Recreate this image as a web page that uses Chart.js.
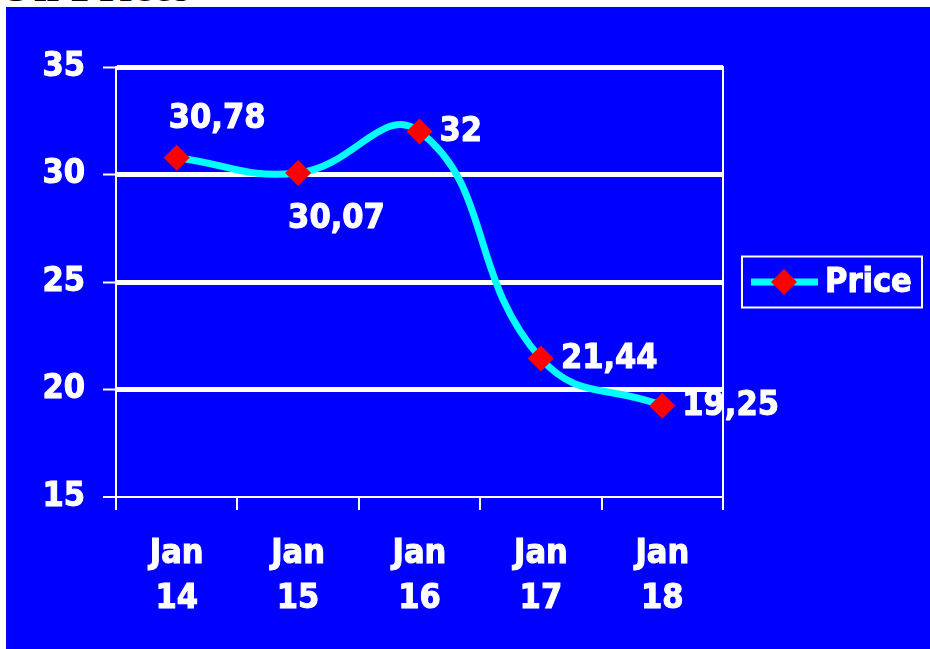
<!DOCTYPE html>
<html>
<head>
<meta charset="utf-8">
<script src="https://cdn.jsdelivr.net/npm/chart.js@4.4.1/dist/chart.umd.min.js"></script>
<style>
  html, body { margin: 0; padding: 0; background: #fff; overflow: hidden; }
  body { width: 930px; height: 649px; position: relative; }
  #title { position: absolute; left: -2px; top: -37px; font: bold 46px "Liberation Serif", serif; line-height: 46px; color: #000; white-space: nowrap; }
  #box { position: absolute; left: 6px; top: 7px; width: 924px; height: 642px; background: #0000ff; }
</style>
</head>
<body>
<div id="title">Oil Prices</div>
<div id="box"><canvas id="priceChart" width="924" height="642"></canvas></div>
<script>
//chart data
const months = [['Jan', '14'], ['Jan', '15'], ['Jan', '16'], ['Jan', '17'], ['Jan', '18']];
const prices = [30.78, 30.07, 32, 21.44, 19.25];
const yTicks = [15, 20, 25, 30, 35];
const seriesName = 'Price';
//where each value label sits next to its marker
const labelSpots = ['above', 'below', 'right', 'right', 'right'];

const FONT = "'DejaVu Sans Condensed', 'DejaVu Sans', sans-serif";
const WHITE = '#ffffff';
const CYAN = '#00ffff';
const RED = '#ff0000';

//heavy white text (fill + thin outline)
function heavyText(c, txt, x, y) {
  c.strokeText(txt, x, y);
  c.fillText(txt, x, y);
}

//value labels, decimal comma
const valueLabels = {
  id: 'valueLabels',
  afterDatasetsDraw(chart) {
    const c = chart.ctx;
    const meta = chart.getDatasetMeta(0);
    c.save();
    c.fillStyle = WHITE;
    c.strokeStyle = WHITE;
    c.lineWidth = 1;
    c.font = 'bold 34px ' + FONT;
    c.textAlign = 'left';
    c.textBaseline = 'middle';
    meta.data.forEach((pt, i) => {
      const txt = String(prices[i]).replace('.', ',');
      const spot = labelSpots[i];
      if (spot === 'above') heavyText(c, txt, pt.x - 8, pt.y - 39);
      else if (spot === 'below') heavyText(c, txt, pt.x - 10, pt.y + 46);
      else heavyText(c, txt, pt.x + 20, pt.y + 1);
    });
    c.restore();
  }
};

//boxed legend to the right of the plot
const boxLegend = {
  id: 'boxLegend',
  afterDraw(chart) {
    const c = chart.ctx;
    const a = chart.chartArea;
    const ds = chart.data.datasets[0];
    const x0 = a.right + 19, w = 180, h = 51;
    const cy = (a.top + a.bottom) / 2;
    const y0 = cy - h / 2;
    c.save();
    c.strokeStyle = WHITE;
    c.lineWidth = 2;
    c.strokeRect(x0, y0, w, h);
    //line sample
    c.strokeStyle = ds.borderColor;
    c.lineWidth = 7;
    c.beginPath();
    c.moveTo(x0 + 9, cy);
    c.lineTo(x0 + 76, cy);
    c.stroke();
    //marker sample
    c.fillStyle = ds.pointBackgroundColor;
    c.strokeStyle = ds.pointBorderColor;
    Chart.helpers.drawPoint(c, { pointStyle: 'rectRot', rotation: 0, radius: 13, borderWidth: 0 }, x0 + 42, cy);
    //label
    c.fillStyle = WHITE;
    c.strokeStyle = WHITE;
    c.lineWidth = 1;
    c.font = 'bold 34px ' + FONT;
    c.textAlign = 'left';
    c.textBaseline = 'middle';
    heavyText(c, ds.label, x0 + 83, cy + 1);
    c.restore();
  }
};

const tickFont = { family: FONT, size: 34, weight: 'bold', lineHeight: 1.32 };

new Chart(document.getElementById('priceChart').getContext('2d'), {
  type: 'line',
  data: {
    labels: months,
    datasets: [{
      label: seriesName,
      data: prices,
      borderColor: CYAN,
      borderWidth: 7,
      tension: 0.45,
      fill: false,
      pointStyle: 'rectRot',
      pointRadius: 13,
      pointHoverRadius: 13,
      pointBackgroundColor: RED,
      pointBorderColor: RED,
      pointBorderWidth: 0,
      clip: false
    }]
  },
  options: {
    responsive: false,
    animation: false,
    devicePixelRatio: 1,
    layout: { padding: { left: 0, right: 207, top: 60, bottom: 0 } },
    plugins: { legend: { display: false }, tooltip: { enabled: false } },
    scales: {
      x: {
        offset: true,
        afterFit: s => { s.height = 152; },
        border: { display: true, color: WHITE, width: 2 },
        grid: { offset: true, drawOnChartArea: false, color: WHITE, lineWidth: 2, tickLength: 13 },
        ticks: {
          color: WHITE, font: tickFont, padding: 22, maxRotation: 0, autoSkip: false,
          textStrokeColor: WHITE, textStrokeWidth: 1
        }
      },
      y: {
        min: 15,
        max: 35,
        afterBuildTicks: s => { s.ticks = yTicks.map(v => ({ value: v })); },
        afterFit: s => { s.width = 110; },
        border: { display: true, color: WHITE, width: 2 },
        grid: {
          color: WHITE,
          lineWidth: c => (c.tick && c.tick.value > 15 ? 5 : 0),
          tickLength: 13,
          tickWidth: 2,
          tickColor: WHITE
        },
        ticks: {
          color: WHITE, font: { family: FONT, size: 34, weight: 'bold' }, padding: 18,
          textStrokeColor: WHITE, textStrokeWidth: 1
        }
      },
      y2: {
        position: 'right',
        min: 15,
        max: 35,
        afterFit: s => { s.width = 0; },
        border: { display: true, color: WHITE, width: 2 },
        grid: { display: false },
        ticks: { display: false }
      }
    }
  },
  plugins: [valueLabels, boxLegend]
});
</script>
</body>
</html>
